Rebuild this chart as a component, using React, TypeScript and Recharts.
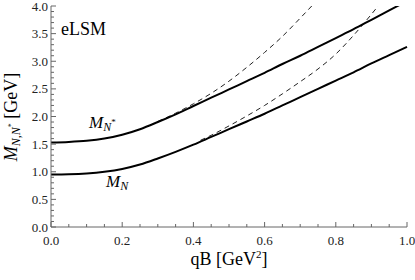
import React from 'react';
import { LineChart, Line, XAxis, YAxis } from 'recharts';

// solid curves, sampled every 0.05 GeV^2
const qbSolid = [0, 0.05, 0.1, 0.15, 0.2, 0.25, 0.3, 0.35, 0.4, 0.45, 0.5, 0.55, 0.6, 0.65, 0.7, 0.75, 0.8, 0.85, 0.9, 0.95, 1.0];
const massN = [0.95, 0.955, 0.97, 1.0, 1.05, 1.13, 1.24, 1.36, 1.49, 1.63, 1.77, 1.91, 2.05, 2.2, 2.35, 2.5, 2.65, 2.8, 2.96, 3.11, 3.26];
const massNStar = [1.53, 1.54, 1.56, 1.6, 1.67, 1.77, 1.9, 2.04, 2.19, 2.34, 2.49, 2.64, 2.79, 2.95, 3.1, 3.26, 3.42, 3.58, 3.75, 3.92, 4.09];

// dashed curves
const qbDashedNStar = [0.3, 0.35, 0.4, 0.45, 0.5, 0.55, 0.6, 0.65, 0.7, 0.75];
const dashedNStar = [1.91, 2.06, 2.23, 2.42, 2.64, 2.89, 3.16, 3.45, 3.78, 4.12];
const qbDashedN = [0.42, 0.45, 0.5, 0.55, 0.6, 0.65, 0.7, 0.75, 0.8, 0.85, 0.9, 0.95];
const dashedN = [1.57, 1.66, 1.83, 2.01, 2.2, 2.41, 2.63, 2.86, 3.13, 3.47, 3.85, 4.25];

const xMajor = [0, 0.2, 0.4, 0.6, 0.8, 1.0];
const yMajor = [0, 0.5, 1.0, 1.5, 2.0, 2.5, 3.0, 3.5, 4.0];

const xTicks = Array.from({ length: 21 }, (_, i) => i * 0.05);
const yTicks = Array.from({ length: 41 }, (_, i) => i * 0.1);

const toPoints = (xs: number[], ys: number[]) => xs.map((x, i) => ({ x, y: ys[i] }));

const FRAME = '#666';
const LABEL = '#222';
const FONT = '"Liberation Serif", "DejaVu Serif", serif';

const isMajor = (v: number, majors: number[]) => majors.some(m => Math.abs(m - v) < 1e-6);

const BottomTick = ({ x, y, payload }: any) => {
  const major = isMajor(payload.value, xMajor);
  return (
    <g>
      <line x1={x} x2={x} y1={y} y2={y - (major ? 5 : 3)} stroke={FRAME} />
      {major && (
        <text x={x} y={y + 18} textAnchor="middle" fontSize={13} style={{ fontFamily: FONT }} fill={LABEL}>
          {payload.value.toFixed(1)}
        </text>
      )}
    </g>
  );
};

const TopTick = ({ x, y, payload }: any) => {
  const major = isMajor(payload.value, xMajor);
  return <line x1={x} x2={x} y1={y} y2={y + (major ? 5 : 3)} stroke={FRAME} />;
};

const LeftTick = ({ x, y, payload }: any) => {
  const major = isMajor(payload.value, yMajor);
  return (
    <g>
      <line x1={x} x2={x + (major ? 5 : 3)} y1={y} y2={y} stroke={FRAME} />
      {major && (
        <text x={x - 3} y={y} dy="0.35em" textAnchor="end" fontSize={13} style={{ fontFamily: FONT }} fill={LABEL}>
          {payload.value.toFixed(1)}
        </text>
      )}
    </g>
  );
};

const RightTick = ({ x, y, payload }: any) => {
  const major = isMajor(payload.value, yMajor);
  return <line x1={x} x2={x - (major ? 5 : 3)} y1={y} y2={y} stroke={FRAME} />;
};

export default function App() {
  return (
    <div style={{ position: 'absolute', left: 0, top: 0, width: 415, height: 280, background: '#fff', fontFamily: FONT }}>
      <LineChart width={415} height={280} margin={{ top: 6, right: 8, bottom: 0, left: 0 }} style={{ fontFamily: FONT }}>
        <XAxis
          xAxisId="b"
          type="number"
          dataKey="x"
          domain={[0, 1]}
          ticks={xTicks}
          interval={0}
          height={53}
          tickSize={0}
          tickMargin={0}
          tickLine={false}
          axisLine={{ stroke: FRAME }}
          tick={(p: any) => <BottomTick {...p} />}
        />
        <XAxis
          xAxisId="t"
          orientation="top"
          type="number"
          dataKey="x"
          domain={[0, 1]}
          ticks={xTicks}
          interval={0}
          height={0}
          tickSize={0}
          tickMargin={0}
          tickLine={false}
          axisLine={{ stroke: FRAME }}
          tick={(p: any) => <TopTick {...p} />}
        />
        <YAxis
          yAxisId="l"
          type="number"
          domain={[0, 4]}
          allowDataOverflow
          ticks={yTicks}
          interval={0}
          width={51}
          tickSize={0}
          tickMargin={0}
          tickLine={false}
          axisLine={{ stroke: FRAME }}
          tick={(p: any) => <LeftTick {...p} />}
        />
        <YAxis
          yAxisId="r"
          orientation="right"
          type="number"
          domain={[0, 4]}
          allowDataOverflow
          ticks={yTicks}
          interval={0}
          width={0}
          tickSize={0}
          tickMargin={0}
          tickLine={false}
          axisLine={{ stroke: FRAME }}
          tick={(p: any) => <RightTick {...p} />}
        />
        <Line xAxisId="b" yAxisId="l" data={toPoints(qbDashedNStar, dashedNStar)} dataKey="y" type="monotone"
          stroke="#222" strokeWidth={1} strokeDasharray="5 4" dot={false} isAnimationActive={false} />
        <Line xAxisId="b" yAxisId="l" data={toPoints(qbDashedN, dashedN)} dataKey="y" type="monotone"
          stroke="#222" strokeWidth={1} strokeDasharray="5 4" dot={false} isAnimationActive={false} />
        <Line xAxisId="b" yAxisId="l" data={toPoints(qbSolid, massNStar)} dataKey="y" type="monotone"
          stroke="#000" strokeWidth={2} dot={false} isAnimationActive={false} />
        <Line xAxisId="b" yAxisId="l" data={toPoints(qbSolid, massN)} dataKey="y" type="monotone"
          stroke="#000" strokeWidth={2} dot={false} isAnimationActive={false} />
      </LineChart>
      <svg width={415} height={280} style={{ position: 'absolute', left: 0, top: 0, pointerEvents: 'none', fontFamily: FONT }}>
        <g fill="#000">
          <text x={61} y={35} fontSize={18}>eLSM</text>
          <text x={89} y={128} fontSize={17}>
            <tspan fontStyle="italic">M</tspan>
            <tspan fontStyle="italic" fontSize={12} dy={3}>N</tspan>
            <tspan fontSize={9} dy={-6}>*</tspan>
          </text>
          <text x={106} y={187} fontSize={17}>
            <tspan fontStyle="italic">M</tspan>
            <tspan fontStyle="italic" fontSize={12} dy={3}>N</tspan>
          </text>
          <text x={229} y={265} fontSize={18} textAnchor="middle">
            qB [GeV<tspan fontSize={11} dy={-7}>2</tspan><tspan dy={7}>]</tspan>
          </text>
          <text transform="translate(17,117) rotate(-90)" fontSize={18} textAnchor="middle">
            <tspan fontStyle="italic">M</tspan>
            <tspan fontStyle="italic" fontSize={12} dy={3}>N,N</tspan>
            <tspan fontSize={8} dy={-6}>*</tspan>
            <tspan dy={3}> [GeV]</tspan>
          </text>
        </g>
      </svg>
    </div>
  );
}
